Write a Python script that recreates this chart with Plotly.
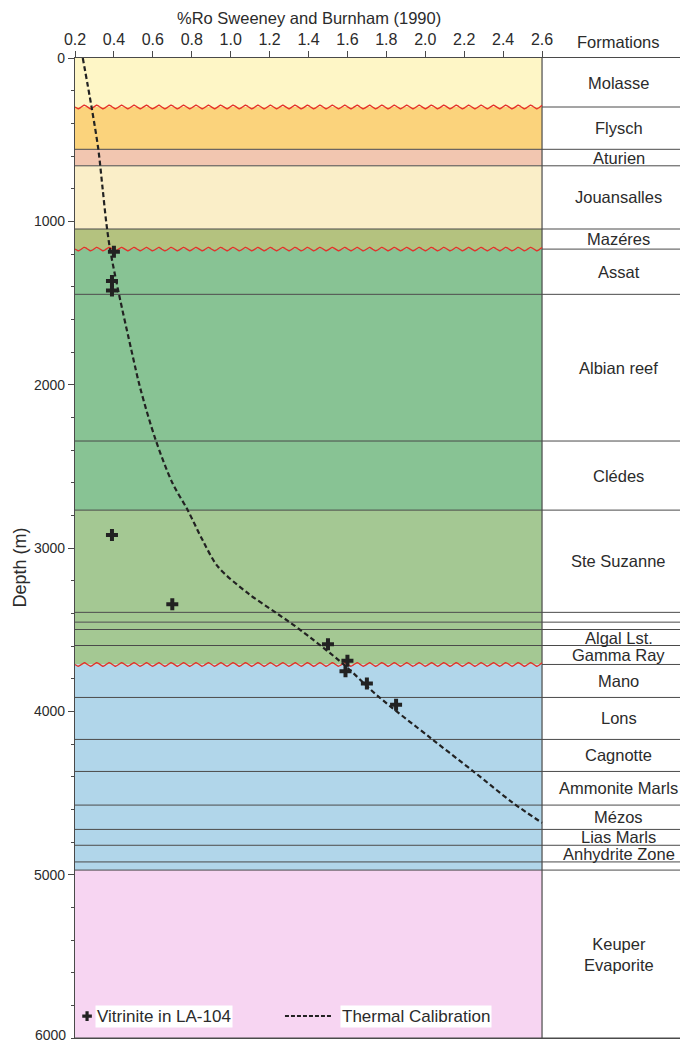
import numpy as np
import plotly.graph_objects as go

# ---- stratigraphic column (depths in m) ----
formation_names = ["Molasse", "Flysch", "Aturien", "Jouansalles", "Mazéres", "Assat",
                   "Albian reef", "Clédes", "Ste Suzanne", "", "", "Algal Lst.", "Gamma Ray",
                   "Mano", "Lons", "Cagnotte", "Ammonite Marls", "Mézos", "Lias Marls",
                   "Anhydrite Zone", "", "Keuper<br>Evaporite"]
formation_tops = [0, 300, 559, 660, 1047, 1170, 1447, 2345, 2768, 3394, 3454, 3499, 3597,
                  3713, 3915, 4172, 4368, 4574, 4723, 4820, 4922, 4972]
formation_colors = ["#FEF6C6", "#FBD37C", "#F2C6B0", "#FAEEC8", "#B4C27F", "#88C394",
                    "#88C394", "#88C394", "#A4C893", "#A4C893", "#A4C893", "#A4C893", "#A4C893",
                    "#B1D6EA", "#B1D6EA", "#B1D6EA", "#B1D6EA", "#B1D6EA", "#B1D6EA",
                    "#B1D6EA", "#B1D6EA", "#F7D5F2"]
unconformities = [300, 1170, 3713]
total_depth = 6000

# ---- vitrinite reflectance measurements (LA-104) ----
vitrinite_ro = [0.40, 0.39, 0.39, 0.39, 0.70, 1.50, 1.60, 1.59, 1.70, 1.85]
vitrinite_depth = [1186, 1366, 1423, 2921, 3344, 3589, 3691, 3754, 3829, 3960]

# ---- thermal calibration curve ----
model_ro = [0.24, 0.285, 0.32, 0.342, 0.36, 0.38, 0.425, 0.49, 0.535, 0.615, 0.70, 0.78,
            0.855, 0.935, 1.09, 1.23, 1.345, 1.585, 1.75, 2.03, 2.25, 2.45, 2.6]
model_depth = [0, 300, 560, 800, 1000, 1170, 1440, 1790, 2020, 2340, 2600, 2770,
               2950, 3115, 3278, 3394, 3490, 3717, 3900, 4166, 4370, 4560, 4683]

ro_ticks = [0.2, 0.4, 0.6, 0.8, 1.0, 1.2, 1.4, 1.6, 1.8, 2.0, 2.2, 2.4, 2.6]
depth_ticks = [0, 1000, 2000, 3000, 4000, 5000, 6000]

X0, X1 = 0.2, 2.6          # reflectance axis extent
XC = 3.309                  # right edge of formation column
XLAB = 2.995                # centre line of formation labels
FONT = "Liberation Sans, Arial, sans-serif"
TXT = "#2b2b2b"
LINE = "#4a4a4a"

bases = formation_tops[1:] + [total_depth]
shapes = []
for top, base, col in zip(formation_tops, bases, formation_colors):
    shapes.append(dict(type="rect", xref="x", yref="y", x0=X0, x1=X1, y0=top, y1=base,
                       fillcolor=col, line_width=0, layer="below"))
for top in formation_tops[1:] + [total_depth]:
    x_start = X1 if top in unconformities else X0
    shapes.append(dict(type="line", xref="x", yref="y", x0=x_start, x1=XC, y0=top, y1=top,
                       line=dict(color=LINE, width=1), layer="below"))
shapes.append(dict(type="line", xref="x", yref="y", x0=X1, x1=X1, y0=0, y1=total_depth,
                   line=dict(color=LINE, width=1.2), layer="below"))

fig = go.Figure()

# wavy unconformity surfaces
period = 0.0637
amp = 11
xw = np.linspace(X0, X1, 1200)
for d in unconformities:
    fig.add_trace(go.Scatter(x=xw, y=d + amp * np.sin(2 * np.pi * (xw - X0) / period),
                             mode="lines", line=dict(color="#E5302A", width=1.3),
                             hoverinfo="skip", showlegend=False))

fig.add_trace(go.Scatter(x=model_ro, y=model_depth, mode="lines",
                         line=dict(color="#222222", width=2.2, dash="5px,3px", shape="spline",
                                   smoothing=0.9),
                         name="Thermal Calibration", showlegend=False))
fig.add_trace(go.Scatter(x=vitrinite_ro, y=vitrinite_depth, mode="markers",
                         marker=dict(symbol="cross", size=10, color="#222222"),
                         name="Vitrinite in LA-104", showlegend=False))

annotations = []
for name, top, base in zip(formation_names, formation_tops, bases):
    if not name:
        continue
    annotations.append(dict(x=XLAB, y=(top + base) / 2, xref="x", yref="y", text=name,
                            showarrow=False, font=dict(family=FONT, size=16.5, color=TXT)))

annotations += [
    dict(x=(X0 + X1) / 2, y=1, xref="x", yref="paper", yanchor="bottom", yshift=29,
         text="%Ro Sweeney and Burnham (1990)", showarrow=False,
         font=dict(family=FONT, size=16.5, color=TXT)),
    dict(x=XLAB, y=1, xref="x", yref="paper", yanchor="bottom", yshift=5,
         text="Formations", showarrow=False, font=dict(family=FONT, size=16.5, color=TXT)),
    dict(x=0, y=3120, xref="paper", yref="y", xanchor="center", yanchor="middle", xshift=-55,
         text="Depth (m)", textangle=-90, showarrow=False,
         font=dict(family=FONT, size=18, color=TXT)),
    dict(x=0, y=total_depth, xref="paper", yref="y", xanchor="right", yanchor="middle",
         xshift=-7, yshift=3, text=f"{total_depth}", showarrow=False,
         font=dict(family=FONT, size=14, color=TXT)),
]

# legend drawn inside the bottom layer
legend_y = 5866
fig.add_trace(go.Scatter(x=[0.262], y=[legend_y], mode="markers",
                         marker=dict(symbol="cross", size=8, color="#222222"),
                         hoverinfo="skip", showlegend=False))
fig.add_trace(go.Scatter(x=[1.279, 1.52], y=[legend_y, legend_y], mode="lines",
                         line=dict(color="#222222", width=2, dash="4px,2px"),
                         hoverinfo="skip", showlegend=False))
annotations += [
    dict(x=0.303, y=legend_y, xref="x", yref="y", xanchor="left", text="Vitrinite in LA-104",
         showarrow=False, bgcolor="white", borderpad=1,
         font=dict(family=FONT, size=17, color=TXT)),
    dict(x=1.562, y=legend_y, xref="x", yref="y", xanchor="left", text="Thermal Calibration",
         showarrow=False, bgcolor="white", borderpad=1,
         font=dict(family=FONT, size=17, color=TXT)),
]

fig.update_layout(
    width=680, height=1043,
    margin=dict(l=75, r=0, t=58, b=5),
    paper_bgcolor="white", plot_bgcolor="white",
    shapes=shapes, annotations=annotations,
    font=dict(family=FONT, color=TXT),
    showlegend=False,
)
fig.update_xaxes(side="top", range=[X0, XC], tickvals=ro_ticks,
                 ticktext=[f"{v:.1f}" for v in ro_ticks],
                 ticks="outside", ticklen=6, tickcolor=LINE, tickwidth=1,
                 showline=True, linecolor=LINE, linewidth=1.2, mirror=True,
                 showgrid=False, zeroline=False, tickfont=dict(size=16, color=TXT))
fig.update_yaxes(range=[total_depth, 0], tickvals=depth_ticks[:-1],
                 ticks="outside", ticklen=6, tickcolor=LINE, tickwidth=1,
                 minor=dict(dtick=200, ticks="outside", ticklen=3, tickcolor=LINE),
                 showline=True, linecolor=LINE, linewidth=1.2,
                 showgrid=False, zeroline=False, tickfont=dict(size=14, color=TXT))

fig.write_html("out.html")
